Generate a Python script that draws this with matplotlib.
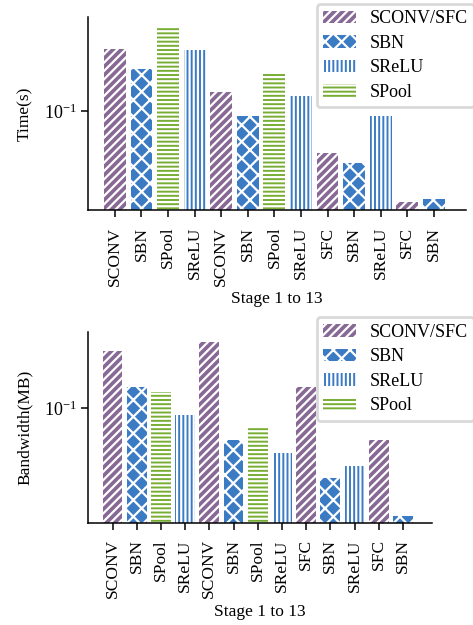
import matplotlib
matplotlib.use('Agg')
import matplotlib.pyplot as plt
from matplotlib.patches import Patch
from matplotlib.ticker import NullLocator

plt.rcParams['font.family'] = ['Liberation Serif', 'DejaVu Serif']
plt.rcParams['mathtext.fontset'] = 'stix'
plt.rcParams['hatch.linewidth'] = 1.6

# stage names and measured values
stages = ['SCONV', 'SBN', 'SPool', 'SReLU', 'SCONV', 'SBN', 'SPool',
          'SReLU', 'SFC', 'SBN', 'SReLU', 'SFC', 'SBN']
time_s = [0.430, 0.266, 0.703, 0.419, 0.156, 0.0889, 0.239, 0.143,
          0.037, 0.0292, 0.0883, 0.0118, 0.0127]
bandwidth_mb = [0.382, 0.166, 0.148, 0.0848, 0.479, 0.0475, 0.0659, 0.035,
                0.164, 0.0195, 0.0258, 0.0472, 0.0080]

legend_names = ['SCONV/SFC', 'SBN', 'SReLU', 'SPool']

# colour and hatch per layer type
styles = {
    'SCONV/SFC': ('#886894', '////'),
    'SBN': ('#3b7bc4', 'xx'),
    'SReLU': ('#3b7bc4', '||||'),
    'SPool': ('#78ad34', '----'),
}


def kind(name):
    if name in ('SCONV', 'SFC'):
        return 'SCONV/SFC'
    return name


def draw(ax, values, ylabel, ylim, leg_anchor):
    x = list(range(len(stages)))
    for i, (name, v) in enumerate(zip(stages, values)):
        color, hatch = styles[kind(name)]
        ax.bar(i, v, width=0.82, color=color, hatch=hatch,
               edgecolor='white', linewidth=0)
    ax.set_yscale('log')
    ax.set_ylim(*ylim)
    ax.set_xlim(-1.0, 13.2)
    ax.set_yticks([0.1])
    ax.yaxis.set_minor_locator(NullLocator())
    ax.set_xticks(x)
    ax.set_xticklabels(stages, rotation=90)
    ax.tick_params(axis='both', length=5, width=1.1, labelsize=12.5)
    ax.tick_params(axis='x', pad=7)
    ax.tick_params(axis='y', labelsize=13)
    ax.set_xlabel('Stage 1 to 13', fontsize=12.5)
    ax.set_ylabel(ylabel, fontsize=12.5, labelpad=8)
    for side in ['top', 'right']:
        ax.spines[side].set_visible(False)
    for side in ['left', 'bottom']:
        ax.spines[side].set_linewidth(1.1)

    handles = [Patch(facecolor=styles[n][0], hatch=styles[n][1],
                     edgecolor='white', linewidth=0) for n in legend_names]
    leg = ax.legend(handles, legend_names, loc='upper left',
                    bbox_to_anchor=leg_anchor,
                    bbox_transform=ax.figure.transFigure,
                    fontsize=13, handlelength=1.8, labelspacing=0.42,
                    borderpad=0.35, borderaxespad=0, fancybox=True)
    leg.get_frame().set_edgecolor('#d0d0d0')
    leg.get_frame().set_linewidth(2)


fig = plt.figure(figsize=(4.73, 6.25), dpi=100)
ax1 = fig.add_axes([0.1867, 0.664, 0.798, 0.3083])
ax2 = fig.add_axes([0.1867, 0.1637, 0.7266, 0.3056])

draw(ax1, time_s, 'Time(s)', (0.00977, 0.904), (0.6696, 0.9936))
draw(ax2, bandwidth_mb, 'Bandwidth(MB)', (0.00681, 0.605), (0.6696, 0.4923))

fig.savefig('out.png', dpi=100)
